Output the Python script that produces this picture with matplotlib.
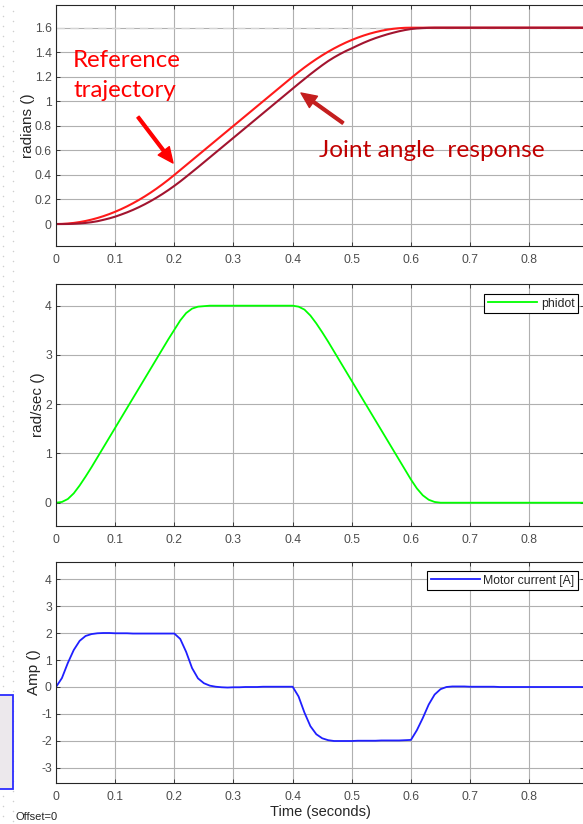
import numpy as np
import matplotlib
matplotlib.use("Agg")
import matplotlib.pyplot as plt
from matplotlib.patches import Rectangle

# Sample times of the scope traces (s)
t = np.round(np.arange(0, 0.905, 0.01), 2)

# Reference trajectory (rad)
reference = [
    0.0, 0.001, 0.004, 0.009, 0.016, 0.025, 0.036, 0.049, 0.064, 0.081,
    0.100, 0.121, 0.144, 0.169, 0.196, 0.225, 0.256, 0.289, 0.324, 0.361,
    0.400, 0.440, 0.480, 0.520, 0.560, 0.600, 0.640, 0.680, 0.720, 0.760,
    0.800, 0.840, 0.880, 0.920, 0.960, 1.000, 1.040, 1.080, 1.120, 1.160,
    1.200, 1.239, 1.276, 1.311, 1.344, 1.375, 1.404, 1.431, 1.456, 1.479,
    1.500, 1.519, 1.536, 1.551, 1.564, 1.575, 1.584, 1.591, 1.596, 1.599,
    1.600, 1.600, 1.600, 1.600, 1.600, 1.600, 1.600, 1.600, 1.600, 1.600,
    1.600, 1.600, 1.600, 1.600, 1.600, 1.600, 1.600, 1.600, 1.600, 1.600,
    1.600, 1.600, 1.600, 1.600, 1.600, 1.600, 1.600, 1.600, 1.600, 1.600,
    1.600,
]

# Joint angle response (rad)
joint_angle = [
    0.0, 0.0, 0.0005, 0.002, 0.005, 0.009, 0.015, 0.023, 0.034, 0.046,
    0.060, 0.077, 0.095, 0.115, 0.137, 0.161, 0.187, 0.215, 0.245, 0.277,
    0.311, 0.347, 0.385, 0.424, 0.463, 0.503, 0.543, 0.583, 0.623, 0.663,
    0.703, 0.743, 0.783, 0.823, 0.863, 0.903, 0.943, 0.983, 1.023, 1.063,
    1.103, 1.143, 1.182, 1.221, 1.258, 1.294, 1.328, 1.358, 1.385, 1.410,
    1.432, 1.455, 1.477, 1.497, 1.515, 1.531, 1.546, 1.559, 1.571, 1.581,
    1.589, 1.594, 1.597, 1.599, 1.600, 1.600, 1.600, 1.600, 1.600, 1.600,
    1.600, 1.600, 1.600, 1.600, 1.600, 1.600, 1.600, 1.600, 1.600, 1.600,
    1.600, 1.600, 1.600, 1.600, 1.600, 1.600, 1.600, 1.600, 1.600, 1.600,
    1.600,
]

# Joint velocity (rad/s)
phidot = [
    0.0, 0.015, 0.075, 0.19, 0.35, 0.53, 0.72, 0.92, 1.12, 1.32,
    1.52, 1.72, 1.92, 2.12, 2.32, 2.52, 2.72, 2.92, 3.12, 3.32,
    3.51, 3.70, 3.85, 3.94, 3.98, 3.99, 4.0, 4.0, 4.0, 4.0,
    4.0, 4.0, 4.0, 4.0, 4.0, 4.0, 4.0, 4.0, 4.0, 4.0,
    4.0, 3.98, 3.92, 3.80, 3.64, 3.46, 3.27, 3.07, 2.87, 2.67,
    2.47, 2.27, 2.07, 1.87, 1.67, 1.47, 1.27, 1.07, 0.87, 0.67,
    0.47, 0.29, 0.15, 0.06, 0.015, 0.0, 0.0, 0.0, 0.0, 0.0,
    0.0, 0.0, 0.0, 0.0, 0.0, 0.0, 0.0, 0.0, 0.0, 0.0,
    0.0, 0.0, 0.0, 0.0, 0.0, 0.0, 0.0, 0.0, 0.0, 0.0,
    0.0,
]

# Motor current (A)
motor_current = [
    0.0, 0.33, 0.89, 1.37, 1.71, 1.89, 1.96, 1.99, 2.0, 2.0,
    1.99, 1.99, 1.99, 1.98, 1.98, 1.98, 1.98, 1.98, 1.98, 1.98,
    1.98, 1.78, 1.30, 0.70, 0.32, 0.14, 0.05, 0.01, -0.01, -0.02,
    -0.01, -0.01, 0.0, 0.0, 0.0, 0.01, 0.01, 0.01, 0.01, 0.01,
    0.01, -0.35, -0.95, -1.45, -1.75, -1.90, -1.97, -2.0, -2.0, -2.0,
    -2.0, -1.99, -1.99, -1.99, -1.99, -1.98, -1.98, -1.98, -1.98, -1.97,
    -1.96, -1.60, -1.15, -0.65, -0.28, -0.08, 0.0, 0.02, 0.02, 0.02,
    0.01, 0.01, 0.01, 0.01, 0.01, 0.0, 0.0, 0.0, 0.0, 0.0,
    0.0, 0.0, 0.0, 0.0, 0.0, 0.0, 0.0, 0.0, 0.0, 0.0,
    0.0,
]

xticks = [0, 0.1, 0.2, 0.3, 0.4, 0.5, 0.6, 0.7, 0.8]
xticklabels = ["0", "0.1", "0.2", "0.3", "0.4", "0.5", "0.6", "0.7", "0.8"]
yticks_angle = [0, 0.2, 0.4, 0.6, 0.8, 1.0, 1.2, 1.4, 1.6]
yticklabels_angle = ["0", "0.2", "0.4", "0.6", "0.8", "1", "1.2", "1.4", "1.6"]
yticks_vel = [0, 1, 2, 3, 4]
yticks_cur = [-3, -2, -1, 0, 1, 2, 3, 4]

plt.rcParams["font.family"] = ["Liberation Sans", "DejaVu Sans"]

W, H = 583, 824
fig = plt.figure(figsize=(W / 100, H / 100), dpi=100)
fig.patch.set_facecolor("white")


def px_axes(left, top, right, bottom):
    return fig.add_axes([left / W, 1 - bottom / H, (right - left) / W, (bottom - top) / H])


# Left margin: faint dot grid and a partly hidden block
margin = fig.add_axes([0, 0, 20 / W, 1])
margin.set_xlim(0, 20)
margin.set_ylim(H, 0)
margin.axis("off")
dot_y = np.arange(6, H, 10)
margin.plot(np.full(dot_y.shape, 3.0), dot_y, ls="none", marker="o", ms=1.1,
            mfc="#cfcfcf", mec="none")
margin.plot(np.full(dot_y.shape, 13.0), dot_y + 5, ls="none", marker="o", ms=1.1,
            mfc="#cfcfcf", mec="none")
margin.add_patch(Rectangle((-5, 695), 17.7, 94, facecolor="#ece8ec",
                           edgecolor="#2b2bff", lw=1.3, zorder=3))

XMAX = 0.8925
GRID = "#b0b0b0"
SPINE = "#262626"


def style(ax, yticks, yticklabels, ylim, ylabel):
    ax.set_xlim(0, XMAX)
    ax.set_ylim(*ylim)
    ax.set_xticks(xticks)
    ax.set_xticklabels(xticklabels)
    ax.set_yticks(yticks)
    ax.set_yticklabels(yticklabels)
    ax.grid(True, color=GRID, lw=0.8)
    ax.set_axisbelow(True)
    for s in ax.spines.values():
        s.set_color(SPINE)
        s.set_linewidth(0.8)
    ax.tick_params(direction="in", length=3, width=0.6, color=SPINE,
                   top=True, right=True, labelsize=8.7, labelcolor="#4d4d4d")
    ax.tick_params(axis="x", pad=5.5)
    ax.tick_params(axis="y", pad=3)
    ax.set_ylabel(ylabel, fontsize=11, color="#262626", labelpad=0)


def legend(ax, top_inset, height):
    leg = ax.legend(loc="upper right", bbox_to_anchor=(1 - 6 / 528, 1 - top_inset / height),
                    borderaxespad=0, fancybox=False, framealpha=1, edgecolor="black",
                    fontsize=8.8, handlelength=4.0, handletextpad=0.3, borderpad=0.3,
                    labelcolor="#262626")
    leg.get_frame().set_linewidth(0.8)


# Joint angle panel
ax1 = px_axes(56, 4.5, 584, 246)
style(ax1, yticks_angle, yticklabels_angle, (-0.179, 1.789), "radians ()")
ax1.axhline(1.6, color="#d4d4d4", lw=1.0, dashes=(6, 4), zorder=1.5)
ax1.plot(t, reference, color="#ff1a1a", lw=1.5, zorder=2)
ax1.plot(t, joint_angle, color="#a2142f", lw=1.5, zorder=2.1)

# Velocity panel
ax2 = px_axes(56, 284, 584, 526)
style(ax2, yticks_vel, [str(v) for v in yticks_vel], (-0.473, 4.44), "rad/sec ()")
ax2.plot(t, phidot, color="#00ff00", lw=1.3, label="phidot")
legend(ax2, 10, 242)

# Motor current panel
ax3 = px_axes(56, 562, 584, 783)
style(ax3, yticks_cur, [str(v) for v in yticks_cur], (-3.556, 4.63), "Amp ()")
ax3.plot(t, motor_current, color="#1f1fff", lw=1.3, label="Motor current [A]")
legend(ax3, 9, 221)
ax3.set_xlabel("Time (seconds)", fontsize=10.5, color="#262626", labelpad=2)

fig.text(15 / W, 1 - 817 / H, "Offset=0", fontsize=8, color="#262626",
         ha="left", va="center")

# Callouts on the joint angle panel
fig.text(73 / W, 1 - 67 / H, "Reference", fontsize=17.3, color="#ff0000",
         family=["Lato", "DejaVu Sans"], ha="left", va="baseline")
fig.text(73 / W, 1 - 97 / H, "trajectory", fontsize=17.3, color="#ff0000",
         family=["Lato", "DejaVu Sans"], ha="left", va="baseline")
fig.text(319 / W, 1 - 157 / H, "Joint angle  response", fontsize=17.6, color="#c00000",
         family=["Lato", "DejaVu Sans"], ha="left", va="baseline")

ax1.annotate("", xy=(173 / W, 1 - 163 / H), xycoords="figure fraction",
             xytext=(138 / W, 1 - 117 / H), textcoords="figure fraction",
             arrowprops=dict(facecolor="#ff0000", edgecolor="#ff0000", width=2.0,
                             headwidth=10, headlength=11, shrink=0))
ax1.annotate("", xy=(301 / W, 1 - 93 / H), xycoords="figure fraction",
             xytext=(343 / W, 1 - 123 / H), textcoords="figure fraction",
             arrowprops=dict(facecolor="#c41e1e", edgecolor="#c41e1e", width=2.0,
                             headwidth=10, headlength=11, shrink=0))

fig.savefig("out.png", dpi=100)
